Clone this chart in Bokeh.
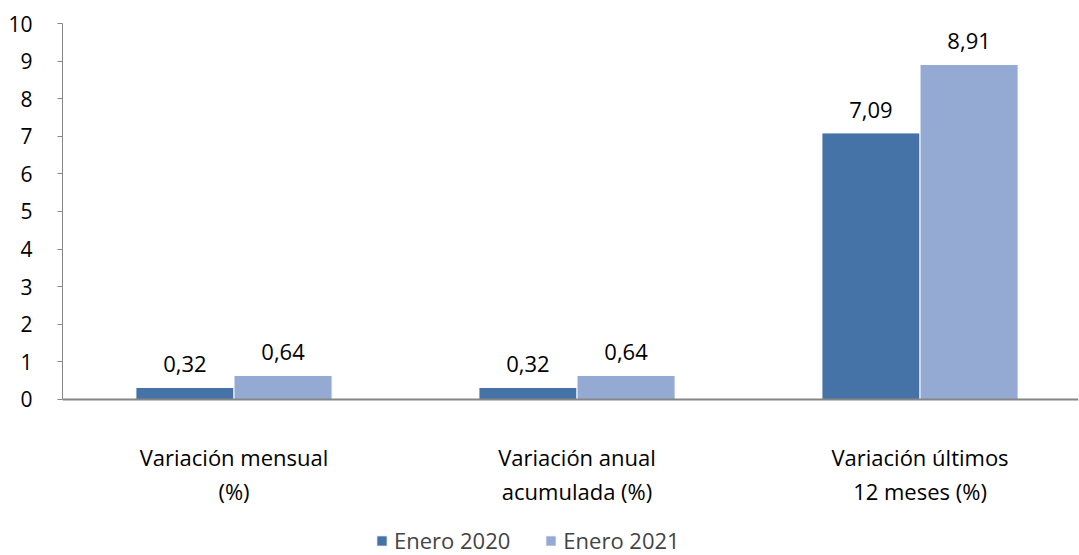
from bokeh.plotting import figure
from bokeh.models import (ColumnDataSource, Range1d, FixedTicker, Legend, LegendItem,
                          LabelSet, Span)
from bokeh.core.properties import value
from bokeh.embed import file_html
from bokeh.resources import INLINE
from bokeh.transform import dodge

categories_line1 = ["Variación mensual", "Variación anual", "Variación últimos"]
categories_line2 = ["(%)", "acumulada (%)", "12 meses (%)"]
series_names = ["Enero 2020", "Enero 2021"]
enero_2020 = [0.32, 0.32, 7.09]
enero_2021 = [0.64, 0.64, 8.91]
y_ticks = list(range(0, 11))

colors = ["#4572A7", "#95AAD2"]
FONT = "Open Sans"
FS = "22px"

xpos = [i + 0.5 for i in range(len(categories_line1))]
src = ColumnDataSource(dict(
    x=xpos,
    base=[0] * len(categories_line1),
    c1=categories_line1,
    c2=categories_line2,
    a=enero_2020, b=enero_2021,
    la=[f"{v:.2f}".replace(".", ",") for v in enero_2020],
    lb=[f"{v:.2f}".replace(".", ",") for v in enero_2021],
))

p = figure(frame_width=1016, frame_height=532, output_backend="svg", toolbar_location=None,
           x_range=Range1d(0, 2.962), y_range=Range1d(-4.149, 10), x_axis_type=None)
p.min_border_left = 62
p.min_border_top = 23
p.min_border_right = 1
p.min_border_bottom = 0
p.outline_line_color = None
p.xgrid.visible = False
p.ygrid.visible = False
p.background_fill_color = "white"
p.border_fill_color = "white"

bw = 0.286
r1 = p.vbar(x=dodge("x", -bw / 2, range=p.x_range), top="a", width=bw, source=src,
            fill_color=colors[0], line_color="white", line_width=1)
r2 = p.vbar(x=dodge("x", bw / 2, range=p.x_range), top="b", width=bw, source=src,
            fill_color=colors[1], line_color="white", line_width=1)

# category axis line at zero
p.add_layout(Span(location=0, dimension="width", line_color="#868686", line_width=2))

for col, lab, off in (("a", "la", -bw / 2), ("b", "lb", bw / 2)):
    ls = LabelSet(x=dodge("x", off, range=p.x_range), y=col, text=lab, source=src,
                  text_align="center", text_baseline="bottom", y_offset=15,
                  text_font=value(FONT), text_font_size=value(FS), text_color="black")
    p.add_layout(ls)

# category labels under the axis line, each line centred
for col, yoff in (("c1", -58), ("c2", -92)):
    cl = LabelSet(x="x", y="base", text=col, source=src,
                  text_align="center", text_baseline="middle", y_offset=yoff,
                  text_font=value(FONT), text_font_size=value(FS), text_color="black")
    p.add_layout(cl)

# y axis
p.yaxis.ticker = FixedTicker(ticks=y_ticks)
p.yaxis.bounds = (0, 10)
p.yaxis.axis_line_color = "#868686"
p.yaxis.major_tick_line_color = "#868686"
p.yaxis.major_tick_out = 5
p.yaxis.major_tick_in = 0
p.yaxis.minor_tick_line_color = None
p.yaxis.major_label_standoff = 25
p.yaxis.major_label_text_font = FONT
p.yaxis.major_label_text_font_size = "21px"
p.yaxis.major_label_text_color = "black"

legend = Legend(items=[LegendItem(label=series_names[0], renderers=[r1]),
                       LegendItem(label=series_names[1], renderers=[r2])],
                orientation="horizontal", location=(313, 0),
                label_text_font=FONT, label_text_font_size=FS,
                glyph_width=13, glyph_height=13, spacing=34, label_standoff=6,
                border_line_color=None, background_fill_alpha=0, padding=0,
                margin=0)
p.add_layout(legend, "center")

open("out.html", "w").write(file_html(p, INLINE))
